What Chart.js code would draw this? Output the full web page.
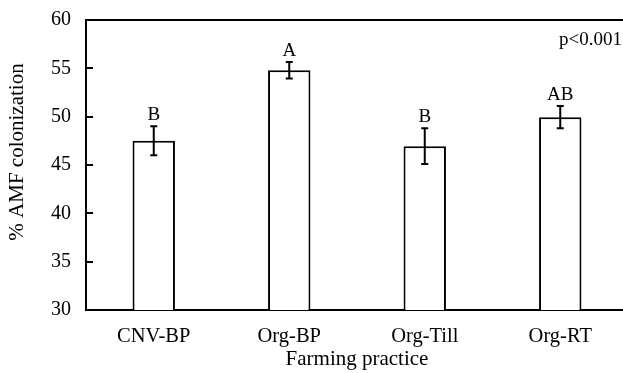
<!DOCTYPE html>
<html>
<head>
<meta charset="utf-8">
<script src="https://cdn.jsdelivr.net/npm/chart.js@4.4.1/dist/chart.umd.min.js"></script>
<style>
  html, body { margin: 0; padding: 0; background: #fff; overflow: hidden; }
  #wrap { width: 630px; height: 373px; }
</style>
</head>
<body>
<div id="wrap"><canvas id="c" width="630" height="373"></canvas></div>
<script>
const categories = ["CNV-BP", "Org-BP", "Org-Till", "Org-RT"];
const colonization = [47.5, 54.8, 46.95, 49.95];
const stdErrors = [1.5, 0.85, 1.85, 1.15];
const groupLetters = ["B", "A", "B", "AB"];
const yTicks = [30, 35, 40, 45, 50, 55, 60];
const pValueText = "p<0.001";
const xTitle = "Farming practice";
const yTitle = "% AMF colonization";

const FONT = "'Liberation Serif', 'Times New Roman', serif";

const extras = {
  id: 'extras',
  afterDatasetsDraw(chart) {
    const ctx = chart.ctx;
    const ys = chart.scales.y;
    const meta = chart.getDatasetMeta(0);
    const area = chart.chartArea;
    ctx.save();
    ctx.strokeStyle = '#000';
    ctx.lineWidth = 2;
    meta.data.forEach((bar, i) => {
      const x = bar.x;
      const top = ys.getPixelForValue(colonization[i] + stdErrors[i]);
      const bot = ys.getPixelForValue(colonization[i] - stdErrors[i]);
      ctx.beginPath();
      ctx.moveTo(x, top); ctx.lineTo(x, bot);
      ctx.moveTo(x - 3.5, top); ctx.lineTo(x + 3.5, top);
      ctx.moveTo(x - 3.5, bot); ctx.lineTo(x + 3.5, bot);
      ctx.stroke();
      ctx.fillStyle = '#000';
      ctx.font = `19px ${FONT}`;
      ctx.textAlign = 'center';
      ctx.textBaseline = 'alphabetic';
      ctx.fillText(groupLetters[i], x, top - 6);
    });
    ctx.beginPath();
    ctx.moveTo(area.left, area.top);
    ctx.lineTo(area.right, area.top);
    ctx.lineTo(area.right, area.bottom);
    ctx.stroke();
    ctx.font = `19px ${FONT}`;
    ctx.textAlign = 'right';
    ctx.textBaseline = 'alphabetic';
    ctx.fillText(pValueText, area.right - 6, area.top + 25);
    ctx.font = `21px ${FONT}`;
    ctx.textAlign = 'center';
    ctx.textBaseline = 'middle';
    ctx.translate(17, 152);
    ctx.rotate(-Math.PI / 2);
    ctx.fillText(yTitle, 0, 0);
    ctx.restore();
  }
};

new Chart(document.getElementById('c'), {
  type: 'bar',
  data: {
    labels: categories,
    datasets: [{
      data: colonization,
      backgroundColor: '#ffffff',
      borderColor: '#000000',
      borderWidth: 2,
      borderSkipped: 'start',
      barPercentage: 1,
      categoryPercentage: 0.313
    }]
  },
  options: {
    responsive: false,
    devicePixelRatio: 1,
    animation: false,
    layout: { padding: { left: 0, right: 2, top: 20, bottom: 0 } },
    plugins: { legend: { display: false }, tooltip: { enabled: false } },
    scales: {
      x: {
        grid: { display: false },
        border: { display: true, color: '#000', width: 2 },
        ticks: { color: '#000', font: { family: FONT, size: 20.5 }, padding: 6, maxRotation: 0 },
        title: { display: true, text: xTitle, color: '#000', font: { family: FONT, size: 21 }, padding: { top: 0, bottom: 1 } },
        afterFit: s => { s.height = 63; s.paddingLeft = 0; s.paddingRight = 0; }
      },
      y: {
        min: 30, max: 60,
        afterBuildTicks: s => { s.ticks = yTicks.map(v => ({ value: v })); },
        grid: { drawOnChartArea: false, drawTicks: true, tickLength: -7, color: '#000', lineWidth: 2 },
        border: { display: true, color: '#000', width: 2 },
        ticks: { color: '#000', font: { family: FONT, size: 20 }, padding: 22 },
        afterFit: s => { s.width = 86; s.paddingTop = 0; s.paddingBottom = 0; }
      }
    }
  },
  plugins: [extras]
});
</script>
</body>
</html>
